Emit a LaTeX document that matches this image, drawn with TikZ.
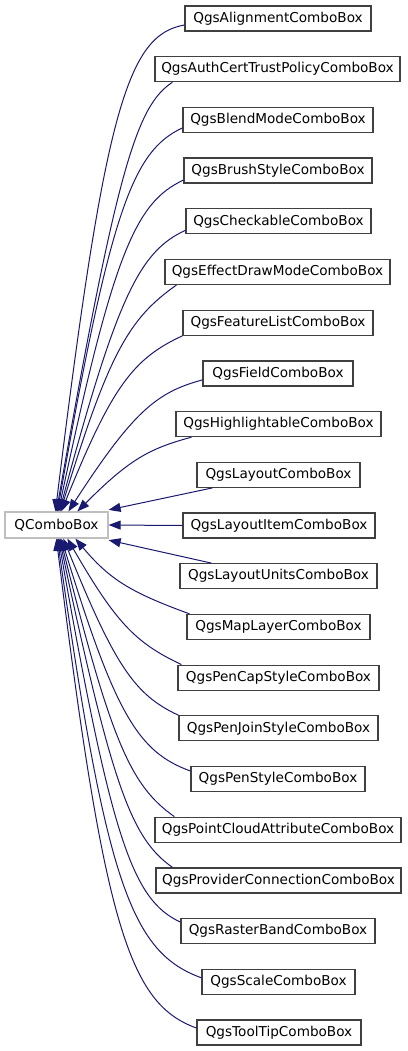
\documentclass[tikz,border=0pt]{standalone}
\usepackage{fontspec}
\setmainfont{DejaVu Sans}
\usetikzlibrary{calc,arrows.meta}
\definecolor{edgeblue}{HTML}{191970}
\definecolor{boxgray}{HTML}{404040}
\definecolor{extgray}{HTML}{BFBFBF}
\begin{document}
\begin{tikzpicture}[x=1pt,y=1pt,
  cls/.style={draw=boxgray, line width=1.2pt, fill=white, inner sep=0pt,
    minimum height=25pt, font=\fontsize{13.6}{16}\selectfont, text=black},
  ext/.style={cls, draw=extgray, minimum height=26pt},
  edge/.style={draw=edgeblue, line width=1pt, -{Triangle[length=12pt,width=9pt]}}]
\useasboundingbox (0,0) rectangle (407,-1051);

\node[ext, minimum width=103pt] (q) at (56.5,-525) {QComboBox};

\node[cls, minimum width=186pt] (n0)  at (278,-18.5)  {QgsAlignmentComboBox};
\node[cls, minimum width=245pt] (n1)  at (277.5,-69.2) {QgsAuthCertTrustPolicyComboBox};
\node[cls, minimum width=190pt] (n2)  at (278,-119.9) {QgsBlendModeComboBox};
\node[cls, minimum width=188pt] (n3)  at (278,-170.6) {QgsBrushStyleComboBox};
\node[cls, minimum width=185pt] (n4)  at (278.5,-221.3) {QgsCheckableComboBox};
\node[cls, minimum width=225pt] (n5)  at (277.5,-272.0) {QgsEffectDrawModeComboBox};
\node[cls, minimum width=190pt] (n6)  at (278,-322.7) {QgsFeatureListComboBox};
\node[cls, minimum width=150pt] (n7)  at (278,-373.4) {QgsFieldComboBox};
\node[cls, minimum width=205pt] (n8)  at (278.5,-424.1) {QgsHighlightableComboBox};
\node[cls, minimum width=163pt] (n9)  at (278.5,-474.8) {QgsLayoutComboBox};
\node[cls, minimum width=192pt] (n10) at (279,-525.5) {QgsLayoutItemComboBox};
\node[cls, minimum width=197pt] (n11) at (278.5,-576.2) {QgsLayoutUnitsComboBox};
\node[cls, minimum width=183pt] (n12) at (278.5,-626.9) {QgsMapLayerComboBox};
\node[cls, minimum width=201pt] (n13) at (278.5,-677.6) {QgsPenCapStyleComboBox};
\node[cls, minimum width=199pt] (n14) at (278.5,-728.3) {QgsPenJoinStyleComboBox};
\node[cls, minimum width=174pt] (n15) at (278,-779.0) {QgsPenStyleComboBox};
\node[cls, minimum width=246pt] (n16) at (278,-829.7) {QgsPointCloudAttributeComboBox};
\node[cls, minimum width=245pt] (n17) at (278.5,-880.4) {QgsProviderConnectionComboBox};
\node[cls, minimum width=194pt] (n18) at (278,-931.1) {QgsRasterBandComboBox};
\node[cls, minimum width=153pt] (n19) at (278.5,-981.8) {QgsScaleComboBox};
\node[cls, minimum width=164pt] (n20) at (279,-1032.5) {QgsToolTipComboBox};

% edges from the upper classes
\draw[edge] ($(n0.west)+(0,-6.5)$) to[out=190,in=83,out distance=58pt,in distance=405pt] ($(q.north west)+(51,0)$);
\draw[edge] ($(n1.south west)+(18,0)$) to[out=213,in=80,out distance=43pt,in distance=347pt] ($(q.north west)+(52,0)$);
\draw[edge] ($(n2.west)+(0,-8)$) to[out=205,in=80,out distance=55pt,in distance=306pt] ($(q.north west)+(53,0)$);
\draw[edge] ($(n3.west)+(0,-9.5)$) to[out=205,in=78,out distance=53pt,in distance=264pt] ($(q.north west)+(54,0)$);
\draw[edge] ($(n4.west)+(0,-9)$) to[out=205,in=75,out distance=50pt,in distance=225pt] ($(q.north west)+(55,0)$);
\draw[edge] ($(n5.south west)+(12,0)$) to[out=215,in=73,out distance=58pt,in distance=165pt] ($(q.north west)+(56,0)$);
\draw[edge] (n6.south west) to[out=205,in=68,out distance=54pt,in distance=136pt] ($(q.north west)+(57,0)$);
\draw[edge] ($(n7.west)+(0,-6.5)$) to[out=195,in=57,out distance=48pt,in distance=118pt] ($(q.north west)+(64,0)$);
\draw[edge] ($(n8.south west)+(16,0)$) to[out=195,in=45,out distance=44pt,in distance=73pt] ($(q.north west)+(73,0)$);

% straight edges
\draw[edge] ($(n9.south west)+(16,0)$) -- ($(q.north east)+(0,1.5)$);
\draw[edge] (n10.west) -- (q.east);
\draw[edge] ($(n11.north west)+(32,0)$) -- ($(q.south east)+(0,-1.5)$);

% edges from the lower classes
\draw[edge] ($(n12.north west)+(3,0)$) to[out=160,in=-50,out distance=63pt,in distance=53pt] ($(q.south west)+(71,0)$);
\draw[edge] ($(n13.north west)+(4,0)$) to[out=155,in=-60,out distance=51pt,in distance=96pt] ($(q.south west)+(63,0)$);
\draw[edge] (n14.north west) to[out=155,in=-68,out distance=48pt,in distance=138pt] ($(q.south west)+(59,0)$);
\draw[edge] ($(n15.west)+(0,8)$) to[out=160,in=-73,out distance=55pt,in distance=185pt] ($(q.south west)+(57,0)$);
\draw[edge] ($(n16.north west)+(20,0)$) to[out=145,in=-76,out distance=53pt,in distance=210pt] ($(q.south west)+(56,0)$);
\draw[edge] ($(n17.north west)+(17,0)$) to[out=145,in=-78,out distance=50pt,in distance=254pt] ($(q.south west)+(55,0)$);
\draw[edge] ($(n18.west)+(0,9)$) to[out=155,in=-80,out distance=53pt,in distance=306pt] ($(q.south west)+(54,0)$);
\draw[edge] ($(n19.west)+(0,4)$) to[out=160,in=-82,out distance=74pt,in distance=350pt] ($(q.south west)+(53,0)$);
\draw[edge] ($(n20.west)+(0,4.5)$) to[out=160,in=-83,out distance=71pt,in distance=393pt] ($(q.south west)+(52,0)$);
\end{tikzpicture}
\end{document}
